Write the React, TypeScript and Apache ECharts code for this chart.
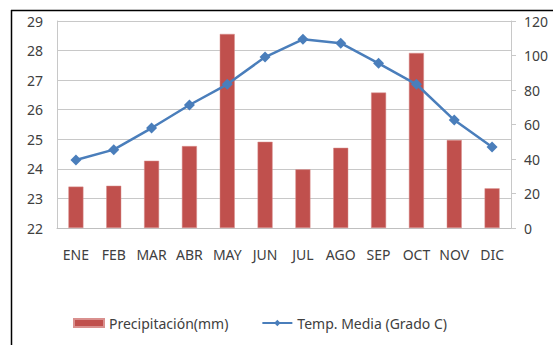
import React, { useEffect, useRef } from "react";
import * as echarts from "echarts";

const months = ["ENE", "FEB", "MAR", "ABR", "MAY", "JUN", "JUL", "AGO", "SEP", "OCT", "NOV", "DIC"];
const precipitation = [24, 24.5, 39, 47.5, 112.5, 50, 34, 46.5, 78.5, 101.5, 51, 23];
const temperature = [24.3, 24.65, 25.38, 26.16, 26.86, 27.78, 28.38, 28.25, 27.57, 26.86, 25.65, 24.74];
const leftTicks = { min: 22, max: 29, interval: 1 };
const rightTicks = { min: 0, max: 120, interval: 20 };

const textColor = "#404040";
const font = "Noto Sans";

export default function App() {
  const ref = useRef<HTMLDivElement>(null);
  useEffect(() => {
    if (!ref.current) return;
    const chart = echarts.init(ref.current, null, { renderer: "svg" });
    chart.setOption({
      animation: false,
      backgroundColor: "#ffffff",
      textStyle: { fontFamily: font },
      grid: { left: 57, right: 42, top: 21, bottom: 117, containLabel: false },
      legend: {
        left: 68,
        top: 311,
        itemGap: 33,
        textStyle: { color: textColor, fontSize: 14, fontFamily: font },
        data: [
          { name: "Precipitación(mm)", icon: "rect", itemStyle: { color: "#C0504D" } },
          { name: "Temp. Media (Grado C)" },
        ],
        itemWidth: 30,
        itemHeight: 8,
      },
      xAxis: {
        type: "category",
        data: months,
        axisLine: { show: true, lineStyle: { color: "#BFBFBF", width: 1 } },
        axisTick: { show: false },
        axisLabel: { color: textColor, fontSize: 14, margin: 19, fontFamily: font, interval: 0 },
      },
      yAxis: [
        {
          type: "value",
          min: leftTicks.min,
          max: leftTicks.max,
          interval: leftTicks.interval,
          axisLine: { show: true, lineStyle: { color: "#C8C8C8" } },
          axisTick: { show: false },
          axisLabel: { color: textColor, fontSize: 14, margin: 14, fontFamily: font },
          splitLine: { show: true, lineStyle: { color: "#C8C8C8", width: 1 } },
        },
        {
          type: "value",
          position: "right",
          min: rightTicks.min,
          max: rightTicks.max,
          interval: rightTicks.interval,
          axisLine: { show: true, lineStyle: { color: "#C8C8C8" } },
          axisTick: { show: true, length: 5, lineStyle: { color: "#C8C8C8" } },
          axisLabel: { color: textColor, fontSize: 14, margin: 13, fontFamily: font },
          splitLine: { show: false },
        },
      ],
      series: [
        {
          name: "Precipitación(mm)",
          type: "bar",
          yAxisIndex: 1,
          data: precipitation,
          barWidth: 15,
          itemStyle: { color: "#C0504D", borderColor: "#D9908E", borderWidth: 0.5 },
        },
        {
          name: "Temp. Media (Grado C)",
          type: "line",
          yAxisIndex: 0,
          data: temperature,
          symbol: "diamond",
          symbolSize: 11,
          lineStyle: { color: "#4A7EBB", width: 2.5 },
          itemStyle: { color: "#4A7EBB" },
        },
      ],
      graphic: [
        { type: "line", shape: { x1: 11.5, y1: 10, x2: 11.5, y2: 345 }, style: { stroke: "#000", lineWidth: 1.5 } },
        { type: "line", shape: { x1: 11, y1: 10.5, x2: 553, y2: 10.5 }, style: { stroke: "#000", lineWidth: 1.5 } },
      ],
    });
    return () => chart.dispose();
  }, []);
  return <div ref={ref} style={{ position: "fixed", left: 0, top: 0, width: 553, height: 345 }} />;
}
